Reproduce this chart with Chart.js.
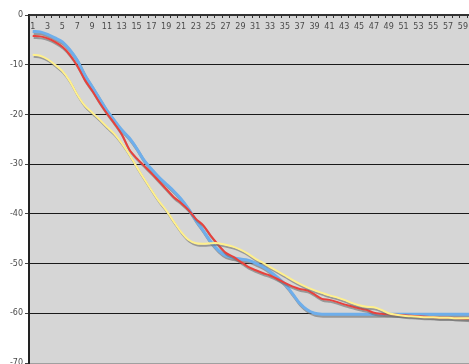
<!DOCTYPE html>
<html lang="en">
<head>
<meta charset="UTF-8">
<title>Chart</title>
<script src="https://cdn.jsdelivr.net/npm/chart.js"></script>
<style>
  body { margin: 0; background: #fff; }
  #wrap { width: 469px; height: 364px; overflow: hidden; }
</style>
</head>
<body>
<div id="wrap"><canvas id="c" width="474" height="374"></canvas></div>
<script>
const categories = ['1','2','3','4','5','6','7','8','9','10','11','12','13','14','15','16','17','18','19','20',
  '21','22','23','24','25','26','27','28','29','30','31','32','33','34','35','36','37','38','39','40',
  '41','42','43','44','45','46','47','48','49','50','51','52','53','54','55','56','57','58','59','60'];

const blueSeries = [-3.3, -3.4, -3.9, -4.6, -5.4, -7.0, -9.1, -12.0, -14.4, -16.8,
  -19.2, -21.2, -23.1, -24.7, -26.8, -29.2, -31.0, -32.6, -34.0, -35.4,
  -37.0, -39.0, -41.3, -43.4, -45.6, -47.3, -48.4, -48.8, -49.1, -49.3,
  -49.9, -50.6, -51.6, -52.8, -54.1, -56.0, -58.0, -59.3, -60.0, -60.2,
  -60.2, -60.2, -60.2, -60.2, -60.2, -60.2, -60.2, -60.2, -60.2, -60.2,
  -60.2, -60.2, -60.2, -60.2, -60.2, -60.2, -60.2, -60.2, -60.2, -60.2];

const redSeries = [-4.2, -4.3, -4.7, -5.4, -6.4, -8.0, -10.2, -13.0, -15.2, -17.6,
  -19.8, -21.8, -24.0, -27.0, -28.8, -30.3, -31.8, -33.4, -35.0, -36.6,
  -37.8, -39.2, -41.0, -42.3, -44.4, -46.2, -47.8, -48.6, -49.6, -50.6,
  -51.3, -51.9, -52.4, -53.1, -53.9, -54.6, -55.1, -55.4, -56.2, -57.1,
  -57.3, -57.7, -58.2, -58.6, -59.0, -59.3, -59.9, -60.1, -60.2, -60.3,
  -60.4, -60.5, -60.6, -60.7, -60.8, -60.9, -60.9, -61.0, -61.1, -61.2];

const yellowSeries = [-8.0, -8.2, -8.9, -10.0, -11.3, -13.3, -16.0, -18.2, -19.6, -21.0,
  -22.5, -23.9, -25.8, -28.0, -30.5, -32.9, -35.2, -37.4, -39.3, -41.5,
  -43.6, -45.2, -45.9, -46.0, -45.9, -45.9, -46.2, -46.6, -47.2, -48.0,
  -49.0, -49.8, -50.7, -51.5, -52.4, -53.3, -54.1, -54.8, -55.4, -55.9,
  -56.4, -56.8, -57.3, -57.9, -58.4, -58.7, -58.8, -59.3, -60.0, -60.3,
  -60.5, -60.6, -60.7, -60.8, -60.8, -60.9, -60.9, -61.0, -61.0, -61.0];

const yMin = -70;
const yMax = 0;
const yStep = 10;

// grey plot area
const plotBg = {
  id: 'plotBg',
  beforeDraw(chart) {
    const { ctx, chartArea: a } = chart;
    ctx.save();
    ctx.fillStyle = '#d6d6d6';
    ctx.fillRect(a.left, a.top, a.right - a.left, a.bottom - a.top);
    ctx.restore();
  }
};

// excel style drop shadow under each line
const lineShadow = {
  id: 'lineShadow',
  beforeDatasetDraw(chart) {
    const ctx = chart.ctx;
    ctx.save();
    ctx.shadowColor = 'rgba(110,110,110,0.6)';
    ctx.shadowOffsetX = 1;
    ctx.shadowOffsetY = 2;
    ctx.shadowBlur = 0;
  },
  afterDatasetDraw(chart) {
    chart.ctx.restore();
  }
};

// category labels + tick marks sit inside the plot, under the top axis
const innerTopAxis = {
  id: 'innerTopAxis',
  beforeDatasetsDraw(chart) {
    const { ctx, chartArea: a, scales: { x } } = chart;
    ctx.save();
    ctx.strokeStyle = '#333';
    ctx.lineWidth = 1;
    ctx.beginPath();
    for (let i = 0; i <= categories.length; i++) {
      const px = Math.round(x.getPixelForValue(i - 0.5)) + 0.5;
      ctx.moveTo(px, a.top);
      ctx.lineTo(px, a.top + 3);
    }
    ctx.stroke();
    ctx.fillStyle = '#4a4a4a';
    ctx.font = '8px "DejaVu Sans"';
    ctx.textAlign = 'center';
    ctx.textBaseline = 'middle';
    categories.forEach((c, i) => {
      if (i % 2 === 0) ctx.fillText(c, x.getPixelForValue(i), a.top + 12);
    });
    ctx.restore();
  }
};

new Chart(document.getElementById('c'), {
  type: 'line',
  data: {
    labels: categories,
    datasets: [
      { data: yellowSeries, borderColor: '#fff08c', borderWidth: 2, order: 0 },
      { data: redSeries, borderColor: '#e8413c', borderWidth: 2, order: 1 },
      { data: blueSeries, borderColor: '#6eaeeb', borderWidth: 3, order: 2 }
    ]
  },
  options: {
    responsive: false,
    animation: false,
    layout: { padding: { left: 0, right: 0, top: 0, bottom: 11 } },
    elements: {
      point: { radius: 0 },
      line: { tension: 0.3, fill: false }
    },
    plugins: { legend: { display: false }, tooltip: { enabled: false } },
    scales: {
      x: {
        position: 'top',
        offset: true,
        grid: { display: false },
        border: { display: true, color: '#333', width: 2 },
        ticks: { display: false },
        afterFit(s) { s.height = 15; }
      },
      y: {
        min: yMin,
        max: yMax,
        ticks: {
          stepSize: yStep,
          color: '#4a4a4a',
          padding: 2,
          font: { size: 8, family: 'DejaVu Sans' }
        },
        grid: {
          color: c => (c.tick && c.tick.value === yMin) ? '#a0a0a0' : '#1a1a1a',
          lineWidth: 1,
          tickLength: 4,
          tickColor: '#444'
        },
        border: { color: '#222', width: 2 },
        afterFit(s) { s.width = 29; }
      }
    }
  },
  plugins: [plotBg, lineShadow, innerTopAxis]
});
</script>
</body>
</html>
